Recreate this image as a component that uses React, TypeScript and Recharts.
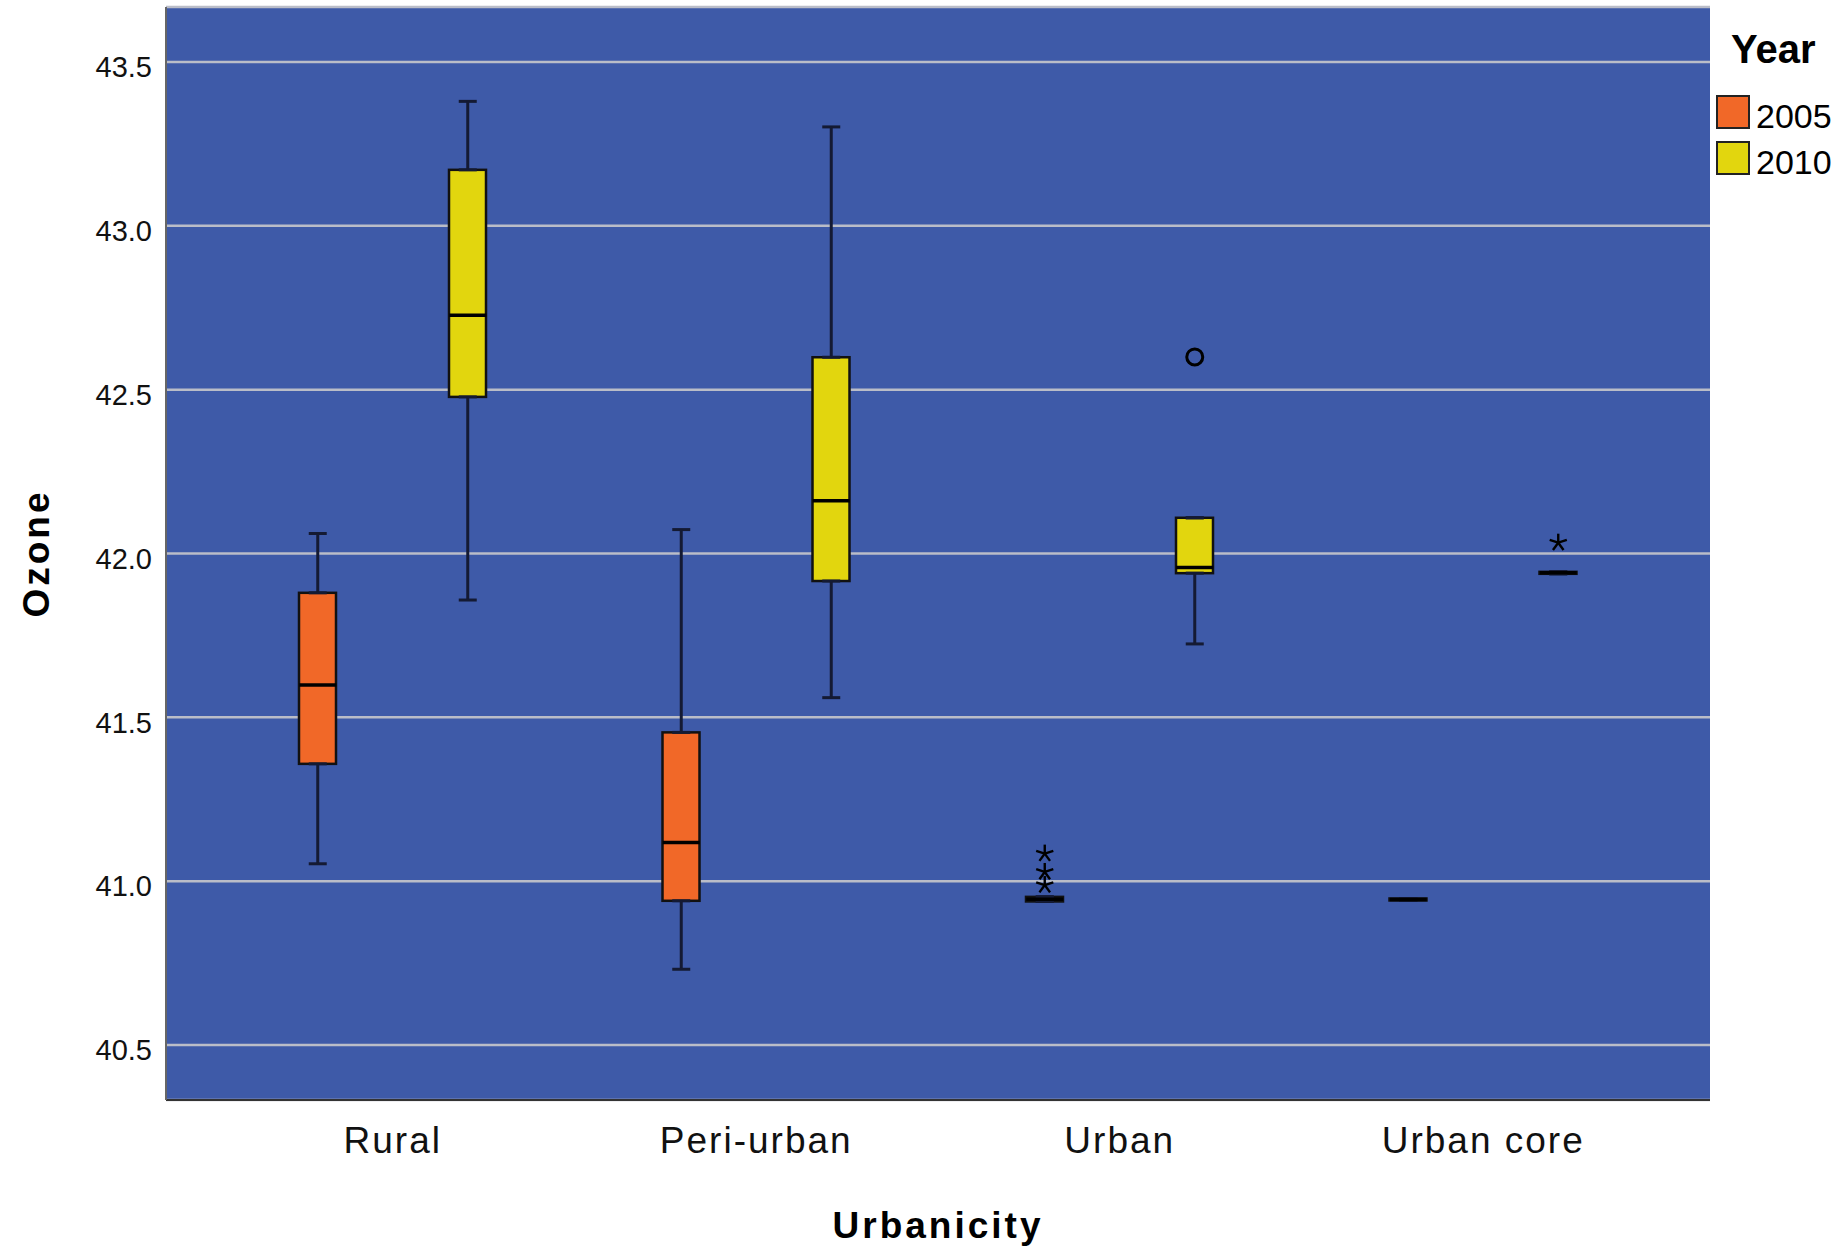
import { ComposedChart, Bar, Scatter, ErrorBar, XAxis, YAxis, CartesianGrid, Legend } from 'recharts';

const categories = ['Rural', 'Peri-urban', 'Urban', 'Urban core'];
const years = ['2005', '2010'];
const yearColors = ['#F16828', '#E2D60E'];

// box summaries (whisker low, Q1, median, Q3, whisker high)
const low2005 = [41.053, 40.731, 40.938, 40.941];
const q1_2005 = [41.358, 40.94, 40.938, 40.941];
const median2005 = [41.599, 41.118, 40.945, 40.944];
const q3_2005 = [41.88, 41.454, 40.952, 40.947];
const high2005 = [42.061, 42.073, 40.952, 40.947];

const low2010 = [41.858, 41.56, 41.724, 41.938];
const q1_2010 = [42.478, 41.916, 41.94, 41.938];
const median2010 = [42.727, 42.161, 41.957, 41.941];
const q3_2010 = [43.171, 42.599, 42.109, 41.944];
const high2010 = [43.38, 43.302, 42.109, 41.944];

// outliers: kind 'o' = circle, 'x' = extreme (asterisk)
const outliers2005 = [[], [], [{ v: 41.084, k: 'x' }, { v: 41.028, k: 'x' }, { v: 40.988, k: 'x' }], []];
const outliers2010 = [[], [], [{ v: 42.6, k: 'o' }], [{ v: 42.033, k: 'x' }]];

const yTicks = [40.5, 41.0, 41.5, 42.0, 42.5, 43.0, 43.5];
const yDomain = [40.332, 43.668];

const BOX_W = 37;
const FONT = '"Liberation Sans", Arial, sans-serif';

const series = [
  { year: '2005', low: low2005, q1: q1_2005, med: median2005, q3: q3_2005, high: high2005, out: outliers2005 },
  { year: '2010', low: low2010, q1: q1_2010, med: median2010, q3: q3_2010, high: high2010, out: outliers2010 },
];

const rows = categories.map((name, i) => {
  const row: any = { name };
  series.forEach((s) => {
    row[`box${s.year}`] = [s.q1[i], s.q3[i]];
    row[`med${s.year}`] = s.med[i];
    // whiskers hang off the box edges
    row[`q1${s.year}`] = s.q1[i];
    row[`errLo${s.year}`] = [s.q1[i] - s.low[i], 0];
    row[`q3${s.year}`] = s.q3[i];
    row[`errHi${s.year}`] = [0, s.high[i] - s.q3[i]];
    s.out[i].forEach((o, j) => {
      row[`out${s.year}_${j}`] = o.v;
      row[`kind${s.year}_${j}`] = o.k;
    });
  });
  return row;
});

const slotCount = (out: any[][]) => Math.max(...out.map((o) => o.length));

const makeBox = (fill: string) => (props: any) => {
  let { x, y, width, height } = props;
  if (height < 0) {
    y += height;
    height = -height;
  }
  if (!(height > 0.5)) return <g />;
  return <rect x={x} y={y} width={width} height={height} fill={fill} stroke="#111" strokeWidth={2.5} />;
};

const MedianLine = (props: any) => {
  const { cx, cy } = props;
  if (!isFinite(cx) || !isFinite(cy)) return <g />;
  return <line x1={cx - BOX_W / 2} x2={cx + BOX_W / 2} y1={cy} y2={cy} stroke="#000" strokeWidth={3.5} />;
};

const Nothing = () => <g />;

const makeOutlier = (year: string, j: number) => (props: any) => {
  const { cx, cy, payload } = props;
  const v = payload?.[`out${year}_${j}`];
  if (v == null || !isFinite(cx) || !isFinite(cy)) return <g />;
  if (payload[`kind${year}_${j}`] === 'o') {
    return <circle cx={cx} cy={cy} r={8} fill="none" stroke="#000" strokeWidth={3} />;
  }
  const arms = [0, 1, 2, 3, 4].map((k) => {
    const a = (-90 + k * 72) * (Math.PI / 180);
    return <line key={k} x1={cx} y1={cy} x2={cx + 9 * Math.cos(a)} y2={cy + 9 * Math.sin(a)} stroke="#000" strokeWidth={2.4} />;
  });
  return <g>{arms}</g>;
};

const YearLegend = () => (
  <svg width={128} height={190} style={{ display: 'block' }}>
    <text x={20} y={63} fontSize={40} fontWeight="bold" fontFamily={FONT} fill="#000">Year</text>
    {years.map((yr, i) => (
      <g key={yr}>
        <rect x={6} y={96 + i * 46} width={32} height={32} fill={yearColors[i]} stroke="#222" strokeWidth={2} />
        <text x={45} y={128 + i * 46} fontSize={34} fontFamily={FONT} fill="#000">{yr}</text>
      </g>
    ))}
  </svg>
);

const OzoneLabel = (props: any) => {
  const { viewBox } = props;
  const cx = viewBox.x + 36;
  const cy = viewBox.y + viewBox.height / 2;
  return (
    <text x={cx} y={cy + 13} transform={`rotate(-90 ${cx} ${cy})`} textAnchor="middle" fontSize={37} fontWeight="bold" letterSpacing={3} fontFamily={FONT} fill="#000">
      Ozone
    </text>
  );
};

const UrbanicityLabel = (props: any) => {
  const { viewBox } = props;
  return (
    <text x={viewBox.x + viewBox.width / 2} y={viewBox.y + 138} textAnchor="middle" fontSize={37} fontWeight="bold" letterSpacing={3} fontFamily={FONT} fill="#000">
      Urbanicity
    </text>
  );
};

export default function App() {
  return (
    <div style={{ width: 1839, height: 1255, background: '#fff' }}>
      <style>{'body{margin:0}'}</style>
      <ComposedChart width={1839} height={1255} data={rows} margin={{ top: 7, right: 129, bottom: 0, left: 0 }}>
        <CartesianGrid vertical={false} fill="#3E5AA8" stroke="#BABDC8" strokeWidth={2.5} />
        <XAxis
          dataKey="name"
          interval={0}
          padding={{ left: 45, right: 45 }}
          height={155}
          tickLine={false}
          tickSize={0}
          tickMargin={27}
          axisLine={{ stroke: '#333', strokeWidth: 2 }}
          tick={{ fontSize: 37, letterSpacing: 2, fill: '#111', fontFamily: FONT }}
          label={{ content: UrbanicityLabel }}
        />
        <XAxis xAxisId="x2005" dataKey="name" hide padding={{ left: -30, right: 120 }} />
        <XAxis xAxisId="x2010" dataKey="name" hide padding={{ left: 120, right: -30 }} />
        <YAxis
          type="number"
          domain={yDomain}
          allowDataOverflow
          ticks={yTicks}
          width={166}
          tickLine={false}
          tickSize={0}
          tickMargin={14}
          axisLine={{ stroke: '#666', strokeWidth: 2 }}
          tickFormatter={(v: number) => v.toFixed(1)}
          tick={{ fontSize: 29, fill: '#111', fontFamily: FONT, dy: 5 }}
          label={{ content: OzoneLabel }}
        />
        <Legend
          layout="horizontal"
          verticalAlign="middle"
          align="center"
          content={YearLegend}
          wrapperStyle={{ position: 'absolute', left: 1711, top: 0, width: 128, height: 190 }}
        />
        {series.map((s, si) => [
          <Bar key={`b${s.year}`} xAxisId={`x${s.year}`} dataKey={`box${s.year}`} barSize={BOX_W} shape={makeBox(yearColors[si])} isAnimationActive={false} legendType="none" />,
          <Scatter key={`wl${s.year}`} xAxisId={`x${s.year}`} dataKey={`q1${s.year}`} shape={Nothing} isAnimationActive={false} legendType="none">
            <ErrorBar dataKey={`errLo${s.year}`} direction="y" width={9} stroke="#141a33" strokeWidth={3} isAnimationActive={false} />
          </Scatter>,
          <Scatter key={`wh${s.year}`} xAxisId={`x${s.year}`} dataKey={`q3${s.year}`} shape={Nothing} isAnimationActive={false} legendType="none">
            <ErrorBar dataKey={`errHi${s.year}`} direction="y" width={9} stroke="#141a33" strokeWidth={3} isAnimationActive={false} />
          </Scatter>,
          <Scatter key={`m${s.year}`} xAxisId={`x${s.year}`} dataKey={`med${s.year}`} shape={MedianLine} isAnimationActive={false} legendType="none" />,
          ...Array.from({ length: slotCount(s.out) }, (_, j) => (
            <Scatter key={`o${s.year}_${j}`} xAxisId={`x${s.year}`} dataKey={`out${s.year}_${j}`} shape={makeOutlier(s.year, j)} isAnimationActive={false} legendType="none" />
          )),
        ])}
      </ComposedChart>
    </div>
  );
}
